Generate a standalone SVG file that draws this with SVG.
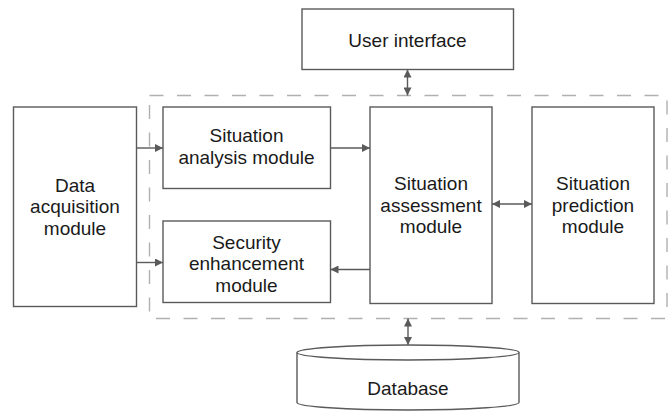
<svg xmlns="http://www.w3.org/2000/svg" width="670" height="413" viewBox="0 0 670 413">
<defs>
<style>
.box{fill:#fff;stroke:#5a5a5a;stroke-width:1.4}
.t{font-family:"Liberation Sans",Arial,sans-serif;font-size:19px;fill:#1a1a1a;text-anchor:middle}
.c{stroke:#5a5a5a;stroke-width:1.4;fill:none}
.dash{fill:none;stroke:#b0b0b0;stroke-width:1.4;stroke-dasharray:14 13.5}
</style>
<marker id="ah" viewBox="0 0 10 10" refX="10" refY="5" markerWidth="9" markerHeight="8" markerUnits="userSpaceOnUse" orient="auto-start-reverse">
<path d="M0,0 L10,5 L0,10 Z" fill="#5a5a5a"/>
</marker>
</defs>
<rect width="670" height="413" fill="#fff"/>
<g id="container">
<rect class="dash" x="149.5" y="95.5" width="517.5" height="223"/>
</g>
<g id="user-interface">
<rect class="box" x="302" y="9" width="211.5" height="60.5"/>
<text class="t" x="407.5" y="46.5">User interface</text>
</g>
<g id="data-acquisition">
<rect class="box" x="13.5" y="107" width="123" height="199.5"/>
<text class="t" x="75" y="191.5">Data</text>
<text class="t" x="75" y="213">acquisition</text>
<text class="t" x="75" y="234.5">module</text>
</g>
<g id="situation-analysis">
<rect class="box" x="163" y="107" width="167.5" height="81.5"/>
<text class="t" x="246.5" y="142">Situation</text>
<text class="t" x="246.5" y="163.5">analysis module</text>
</g>
<g id="security-enhancement">
<rect class="box" x="163" y="221" width="167.5" height="81.5"/>
<text class="t" x="246.5" y="248.5">Security</text>
<text class="t" x="246.5" y="270">enhancement</text>
<text class="t" x="246.5" y="291.5">module</text>
</g>
<g id="situation-assessment">
<rect class="box" x="370" y="107" width="122" height="196.5"/>
<text class="t" x="431" y="190">Situation</text>
<text class="t" x="431" y="211.5">assessment</text>
<text class="t" x="431" y="233">module</text>
</g>
<g id="situation-prediction">
<rect class="box" x="532" y="107" width="122" height="196.5"/>
<text class="t" x="593" y="190">Situation</text>
<text class="t" x="593" y="211.5">prediction</text>
<text class="t" x="593" y="233">module</text>
</g>
<g id="database">
<path class="box" d="M297,352.5 L297,402.5 A111,7.5 0 0,0 519,402.5 L519,352.5"/>
<ellipse class="box" cx="408" cy="352.5" rx="111" ry="7.5"/>
<text class="t" x="408" y="395">Database</text>
</g>
<g id="connectors">
<line class="c" x1="136.5" y1="148" x2="163" y2="148" marker-end="url(#ah)"/>
<line class="c" x1="136.5" y1="262.5" x2="163" y2="262.5" marker-end="url(#ah)"/>
<line class="c" x1="330.5" y1="148" x2="370" y2="148" marker-end="url(#ah)"/>
<line class="c" x1="370" y1="269.5" x2="330.5" y2="269.5" marker-end="url(#ah)"/>
<line class="c" x1="492" y1="204" x2="532" y2="204" marker-start="url(#ah)" marker-end="url(#ah)"/>
<line class="c" x1="407.5" y1="69.5" x2="407.5" y2="95.5" marker-start="url(#ah)" marker-end="url(#ah)"/>
<line class="c" x1="408" y1="318.5" x2="408" y2="345" marker-start="url(#ah)" marker-end="url(#ah)"/>
</g>
</svg>
